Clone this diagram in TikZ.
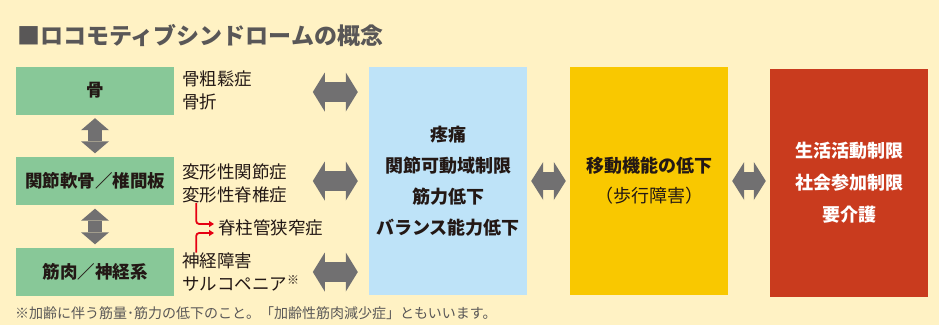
\documentclass[tikz,border=0pt]{standalone}
\usepackage{fontspec}
\setmainfont{Noto Sans CJK JP}
\usetikzlibrary{arrows.meta, positioning}
\definecolor{bgcol}{HTML}{FFF2C4}
\definecolor{greenbox}{HTML}{88C898}
\definecolor{bluebox}{HTML}{BEE3F8}
\definecolor{yelbox}{HTML}{F9C800}
\definecolor{redbox}{HTML}{C93B1E}
\definecolor{arrgray}{HTML}{717071}
\definecolor{txtdark}{HTML}{231815}
\definecolor{txtgray}{HTML}{595757}
\definecolor{redline}{HTML}{E60012}

\begin{document}
\begin{tikzpicture}[x=1pt, y=-1pt,
    gbox/.style={fill=greenbox, minimum width=158pt, minimum height=48pt, inner sep=0pt, font=\fontsize{17.5}{20}\selectfont\bfseries, text=txtdark},
    bigbox/.style={minimum width=158pt, minimum height=228pt, inner sep=0pt, align=center, font=\fontsize{18}{31}\selectfont\bfseries, text=txtdark},
    side/.style={inner sep=0pt, align=left, font=\fontsize{17.5}{23}\selectfont, text=txtdark},
    title/.style={inner sep=0pt, font=\fontsize{23}{24}\selectfont\bfseries, text=txtgray},
    note/.style={inner sep=0pt, font=\fontsize{14}{15}\selectfont, text=txtgray},
    hfat/.style={draw=arrgray, line width=20pt, {Triangle[width=39pt,length=12pt,line width=0pt]}-{Triangle[width=39pt,length=12pt,line width=0pt]}},
    mfat/.style={draw=arrgray, line width=18pt, shorten <=4pt, shorten >=4pt, {Triangle[width=38pt,length=12pt,line width=0pt]}-{Triangle[width=38pt,length=12pt,line width=0pt]}},
    vfat/.style={draw=arrgray, line width=14pt, shorten <=3.5pt, shorten >=3.5pt, {Triangle[width=28pt,length=12pt,line width=0pt]}-{Triangle[width=28pt,length=12pt,line width=0pt]}},
    redarrow/.style={draw=redline, line width=1.8pt, rounded corners=3pt, -{Triangle[width=6pt,length=5pt]}}
]

% Background and title
\fill[bgcol] (0,0) rectangle (939,325);
\node[title, anchor=west] (title) at (17,36) {■ロコモティブシンドロームの概念};

% Left column
\node[gbox] (bone) at (95,90.5) {骨};
\node[gbox] (joint) at (95,181) {関節軟骨／椎間板};
\node[gbox] (muscle) at (95,272) {筋肉／神経系};
\draw[vfat] (bone) -- (joint);
\draw[vfat] (joint) -- (muscle);

% Diseases
\node[side, anchor=west] (s1) at ([xshift=8pt]bone.east) {骨粗鬆症\\骨折};
\node[side, anchor=west] (s2) at ([xshift=8pt,yshift=-2pt]joint.east) {変形性関節症\\変形性脊椎症};
\node[side, anchor=west] (s3) at ([xshift=8pt]muscle.east) {神経障害\\サルコペニア\raisebox{6pt}{\fontsize{12}{12}\selectfont ※}};
\node[side, anchor=west] (sten) at (218,228) {脊柱管狭窄症};
\draw[redarrow] ([xshift=14pt]s2.south west) |- ([xshift=-4pt,yshift=4pt]sten.west);
\draw[redarrow] ([xshift=14pt]s3.north west) |- ([xshift=-4pt,yshift=-5pt]sten.west);

% Right boxes
\node[bigbox, fill=bluebox] (pain) at (448,181) {疼痛\\関節可動域制限\\筋力低下\\バランス能力低下};
\node[bigbox, fill=yelbox, font=\fontsize{18}{30}\selectfont\bfseries] (mob) at (649,181) {移動機能の低下\\{\mdseries（歩行障害）}};
\node[bigbox, fill=redbox, text=white, font=\fontsize{18}{32}\selectfont\bfseries] (life) at (849,183) {生活活動制限\\社会参加制限\\要介護};

% Arrows into the blue box
\path (pain.west |- bone) ++(-11,1.5) coordinate (h1e) ++(-45,0) coordinate (h1s);
\path (pain.west |- joint) ++(-11,0) coordinate (h2e) ++(-45,0) coordinate (h2s);
\path (pain.west |- muscle) ++(-11,0) coordinate (h3e) ++(-45,0) coordinate (h3s);
\draw[hfat] (h1s) -- (h1e);
\draw[hfat] (h2s) -- (h2e);
\draw[hfat] (h3s) -- (h3e);
\draw[mfat] (pain) -- (mob);
\draw[mfat] (mob) -- (mob -| life.west);

% Footnote
\node[note, anchor=west] (note) at (15,313) {※加齢に伴う筋量･筋力の低下のこと。「加齢性筋肉減少症」ともいいます。};

\end{tikzpicture}
\end{document}
